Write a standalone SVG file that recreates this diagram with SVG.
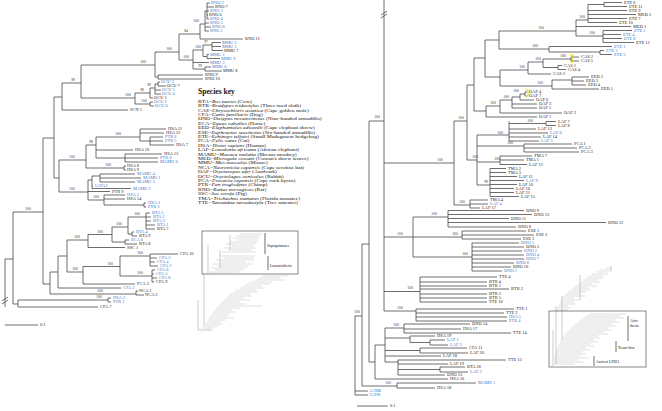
<svg xmlns="http://www.w3.org/2000/svg" width="662" height="411" viewBox="0 0 662 411">
<style>
.c{fill:none;stroke:#3d3d3d;stroke-width:.75}
.g{fill:none;stroke:#cbcbcb;stroke-width:.6}
.gd{fill:none;stroke:#a8a8a8;stroke-width:.6}
.bx{fill:none;stroke:#555;stroke-width:.7}
.y{fill:none;stroke:#eadc00;stroke-width:1.1}
text{font-family:"Liberation Serif","Times New Roman",serif}
.t{font-size:3.7px;fill:#1e1e1e;transform:scaleX(1.2);transform-box:fill-box;transform-origin:0 0}
.b{fill:#3b76c6}
.s{font-size:3.2px;fill:#333;text-anchor:middle;transform:scaleX(1.15);transform-box:fill-box;transform-origin:50% 0}
.k{font-size:3.9px;fill:#111;transform:scaleX(1.44);transform-box:fill-box;transform-origin:0 0}
.h{font-size:7.6px;font-weight:bold;fill:#111}
.i{font-style:italic}
.n{font-size:3.8px;fill:#222}
</style>
<rect width="662" height="411" fill="#fff"/>
<g id="connectors">
<path class="c" d="M5,259V307M5,259H13M13,212V304M13,212H43M13,304H18M18,300V307M18,300H108M108,298V302M108,298H111M108,302H111M18,307H98M2,301L8,297M2,304L8,300
M43,138V284M43,138H54M43,284H50M54,97V178M54,97H62M54,178H59
M62,83V110M62,83H81M62,110H128M81,65V98M81,65H155
M81,98H135M135,93V104M135,93H150M150,88V98M150,88H155M155,84V94M155,84H158M158,82V86M158,82H160M158,86H166M155,90H161M155,94H161M150,98H153M135,104H150M150,102V106M150,102H153M150,106H154
M155,52V77M155,52H179M155,77H158M158,75V79M158,75H203M158,79H203
M179,34V60M179,34H200M200,24V39M200,24H205M200,39H243
M205,11V31M205,11H207M207,3V19M207,3H210M207,7H214M207,11H209M207,15H208M207,19H209M205,23H209M205,27H211M205,31H209
M179,60H193M193,50V69M193,50H203M203,45V56.5M203,45H212M212,42.5V50.5M212,42.5H221M212,46.5H221M212,50.5H223M203,56.5H207M207,54.5V58.5M207,54.5H209M207,58.5H220M193,62.5H209M193,69H205M205,67V71M205,67H211M205,71H222
M59,160V192M59,160H86M59,192H88
M86,145V168M86,145H96M86,168H124M124,166V170M124,166H126M124,170H126
M96,137V158M96,137H140M96,150H133M96,158H125
M140,129V141M140,129H166M140,133H164M140,141H150M150,137V145M150,137H163M150,141H163M150,145H174
M125,154V162M125,154H162M125,158H158M125,162H158
M88,180V200M88,180H92M92,176V188.5M92,176H100M100,174V182M100,174H135M100,178H141M100,182H135M92,186H93M92,188.5H131M88,191.5H110
M88,200H104M104,195V205M104,195H125M104,199H125M104,205H144M144,203V207M144,203H146M144,207H146
M50,272V294M50,294H136M136,291V295M136,291H138M136,295H144M50,272H58
M58,256V288M58,288H121M58,256H67
M67,240V272M67,240H88M67,272H83
M88,234.5V247.5M88,234.5H112M88,247.5H125
M112,227V242M112,227H128M112,242H125M125,240V244M125,240H129M125,244H137
M128,217V234M128,217H146M146,213V229M146,213H150M146,217H151M146,221H151M146,225H155M146,229H155M128,234H132M132,232V236M132,232H134M132,236H137
M83,266.5V284M83,284H135M83,266.5H120M120,256V276M120,256H150M150,254V266M150,254H178M150,258H157M150,262H155M150,266H158M120,276H152M152,270V282M152,270H155M152,274H154M152,278H157M152,282H154
M5,325H38"/>
<path class="c" d="M355,316V395M355,391H368M355,395H368M355,316H362
M362,244V386M362,244H369M362,386H397M397,383V388M397,383H476M397,388H435
M369,121V362M369,121H384M369,362H375
M384,0V311M381,15L387,11M381,18L387,14
M384,163H454M454,121V205M454,121H467M454,205H470M470,200V208M470,200H488M470,204H488M470,208H480
M467,85V160M467,85H474M467,160H477
M474,58V111M474,58H485M474,111H486
M485,40V77M485,40H499M485,77H500
M499,31V49M499,31H576M499,49H549
M576,20V36M576,20H588M576,26.5H631M576,36H603
M588,4.5V22.5M588,4.5H604M604,2.5V6.5M604,2.5H622M604,6.5H627M588,10.5H627M588,14.5H636M588,18.5H627M588,22.5H617
M603,30.5V42.5M603,30.5H632M603,34.5H621M603,38.5H622M603,42.5H634
M549,46.5V52M549,46.5H612M549,52H600M600,50.5V54.5M600,50.5H604M600,54.5H612
M500,70V86M500,70H528M500,86H552M528,62V74M528,62H543M528,74H551M543,59V67.5M543,59H571M543,67.5H558M571,57V61M571,57H579M571,61H579M558,65.5V69.5M558,65.5H562M558,69.5H566M552,80V89M552,80H572M552,89H599M572,77V85M572,77H589M572,81H584M572,85H586
M486,106V117M486,106H500M486,117H537M500,100V113M500,100H512M500,113H562M512,97V108M512,97H520M512,104H537M512,108H537M520,94V100M520,94H525M525,92V96M525,92H527M525,96H527M520,100H534
M477,135V185M477,135H509M509,121.5V141M509,123.5H546M546,121.5V125.5M546,121.5H556M546,125.5H556M509,129H536M509,133H548M509,137H541M509,141H539M477,146H524M524,144V152M524,144H572M524,148H577M524,152H579M477,162H500M500,156V164.5M500,156H532M500,160H524M500,164.5H527M477,185H490M490,168.5V196.5M490,168.5H506M490,172.5H506M490,176.5H517M490,180.5H524M490,184.5H517M490,188.5H514M490,192.5H514M490,196.5H519
M384,237H413M413,217V257M413,217H448M448,210.5V227M448,210.5H524M448,214.5H532M448,218.5H509M448,222.5H606M448,227H516M413,237H462M462,231V239M462,231H526M462,235H534M462,239H521M413,257H472M472,243V271M472,243H519M472,247H524M472,251H522M472,255H524M472,259H524M472,263H514M472,267H511M472,271H502
M384,291.5H420M420,277V302M420,277H497M420,282H487M420,286H487M420,289H509M420,294H487M420,298H487M420,302H487
M384,311H416M416,309V321M416,309H514M416,313H504M416,317H507M416,321H507
M375,345V379M375,379H448M375,345H385M385,328V362M385,328H404M404,324V333M404,324H470M404,329H461M404,333H511M385,338H410M410,336V342.5M410,336H435M410,342.5H430M430,340V345M430,340H445M430,345H448M385,350.5H420M420,348V353M420,348H467M420,353H468M385,356H441M385,362H398M398,360V375M398,360H506M398,364H448M398,369.5H440M440,367V372M440,367H465M440,372H468M398,375H445
M357,406H388"/>
<path class="y" d="M570,55h3v7h-3M525,90h3v6h-3"/>
</g>
<g id="left-tips">
<text class="t b" x="211" y="4.3">RNO 2</text><text class="t" x="215" y="8.3">RNO 7</text><text class="t b" x="210" y="12.3">RNO 3</text><text class="t" x="209" y="16.3">RNO 6</text><text class="t b" x="210" y="20.3">RNO 4</text><text class="t b" x="210" y="24.3">RNO 5</text><text class="t b" x="212" y="28.3">RNO 8</text><text class="t b" x="210" y="32.3">RNO 1</text><text class="t" x="245" y="40.3">RNO 11</text>
<text class="t b" x="222" y="43.8">MMU 3</text><text class="t b" x="222" y="47.8">MMU 1</text><text class="t" x="224" y="51.8">MMU 7</text><text class="t b" x="210" y="55.8">MMU 2</text><text class="t b" x="221" y="59.8">MMU 9</text><text class="t b" x="210" y="63.8">MMU 5</text><text class="t b" x="212" y="68.3">MMU 6</text><text class="t" x="223" y="72.3">MMU 8</text>
<text class="t" x="205" y="76.3">RNO 9</text><text class="t" x="205" y="80.3">RNO 10</text>
<text class="t b" x="161" y="83.3">OCU 3</text><text class="t" x="167" y="87.3">OCU 7</text><text class="t b" x="162" y="91.3">OCU 5</text><text class="t b" x="162" y="95.3">OCU 4</text><text class="t" x="154" y="99.3">OCU 1</text><text class="t b" x="154" y="103.3">OCU 2</text><text class="t b" x="155" y="107.3">OCU 6</text><text class="t" x="130" y="111.3">SCN 1</text>
<text class="t" x="168" y="130.3">HSA 11</text><text class="t" x="166" y="134.3">HSA 12</text><text class="t b" x="165" y="138.3">PTR 6</text><text class="t b" x="165" y="142.3">PTR 5</text><text class="t" x="176" y="146.3">HSA 7</text><text class="t" x="135" y="151.3">HSA 10</text><text class="t" x="164" y="155.3">HSA 13</text><text class="t b" x="160" y="159.3">PTR 8</text><text class="t b" x="160" y="163.3">MAMU 6</text><text class="t" x="127" y="167.3">HSA 8</text><text class="t" x="127" y="171.3">HSA 9</text>
<text class="t b" x="137" y="175.3">MAMU 4</text><text class="t b" x="143" y="179.3">MAMU 1</text><text class="t b" x="137" y="183.3">MAMU 3</text><text class="t b" x="95" y="187.3">L1PA2</text><text class="t b" x="133" y="189.8">MAMU 2</text><text class="t" x="112" y="192.8">PTR 9</text><text class="t b" x="127" y="196.3">HSA 1</text><text class="t" x="127" y="200.3">HSA 14</text><text class="t b" x="148" y="204.3">HSA 3</text><text class="t b" x="148" y="208.3">PTR 3</text>
<text class="t b" x="152" y="214.3">BTA 5</text><text class="t b" x="153" y="218.3">BTA 2</text><text class="t b" x="153" y="222.3">BTA 3</text><text class="t b" x="157" y="226.3">BTA 1</text><text class="t" x="157" y="230.3">BTA 7</text><text class="t b" x="136" y="233.3">BTA 4</text><text class="t" x="139" y="237.3">BTA 9</text><text class="t b" x="131" y="241.3">ECA 6</text><text class="t" x="139" y="245.3">BTA 8</text><text class="t" x="127" y="248.8">SSC 1</text>
<text class="t" x="180" y="255.3">CFA 10</text><text class="t b" x="159" y="259.3">CFA 2</text><text class="t b" x="157" y="263.3">CFA 4</text><text class="t b" x="160" y="267.3">CFA 3</text><text class="t b" x="157" y="271.3">CFA 6</text><text class="t b" x="156" y="275.3">CFA 5</text><text class="t b" x="159" y="279.3">CFA 8</text><text class="t" x="156" y="283.3">CFA 9</text><text class="t" x="137" y="285.3">FCA 3</text><text class="t b" x="123" y="289.3">CFA 1</text><text class="t" x="139" y="292.3">NCA 1</text><text class="t" x="145" y="296.3">NCA 2</text>
<text class="t b" x="113" y="299.3">HSA 2</text><text class="t b" x="113" y="303.3">PTR 1</text><text class="t" x="100" y="308.3">CFA 7</text>
<text class="t" x="40" y="326.3">0.1</text>
</g>
<g id="left-support">
<text class="s" x="28" y="210.5">100</text><text class="s" x="99" y="298.5">100</text><text class="s" x="73" y="81.5">98</text><text class="s" x="143" y="63.5">100</text><text class="s" x="128" y="96.5">100</text><text class="s" x="142" y="91.5">98</text><text class="s" x="149" y="86.5">99</text><text class="s" x="144" y="102.5">100</text><text class="s" x="169" y="50.5">100</text><text class="s" x="186" y="32.5">84</text><text class="s" x="196" y="22.5">100</text><text class="s" x="186" y="58.5">100</text><text class="s" x="198" y="48.5">100</text><text class="s" x="206" y="43.5">97</text><text class="s" x="200" y="67.5">99</text>
<text class="s" x="72" y="158.5">100</text><text class="s" x="91" y="143.5">98</text><text class="s" x="108" y="166.5">100</text><text class="s" x="118" y="135.5">100</text><text class="s" x="72" y="190.5">100</text><text class="s" x="96" y="198.5">100</text>
<text class="s" x="77" y="238.5">100</text><text class="s" x="100" y="233">100</text><text class="s" x="119" y="225.5">100</text><text class="s" x="137" y="215.5">100</text><text class="s" x="140" y="254.5">100</text><text class="s" x="110" y="265">100</text><text class="s" x="75" y="270.5">100</text><text class="s" x="140" y="274.5">100</text><text class="s" x="100" y="292.5">100</text>
</g>
<g id="species-key">
<text class="h" x="198" y="94">Species key</text>
<text class="k" x="198" y="102.8">BTA=<tspan class="i">Bos taurus</tspan> (Cow)</text>
<text class="k" x="198" y="107.2">BTR=<tspan class="i">Bradypus tridactylus</tspan> (Three-toed sloth)</text>
<text class="k" x="198" y="111.6">CAS=<tspan class="i">Chrysochloris asiatica</tspan> (Cape golden mole)</text>
<text class="k" x="198" y="116">CFA=<tspan class="i">Canis familiaris</tspan> (Dog)</text>
<text class="k" x="198" y="120.4">DNO=<tspan class="i">Dasypus novemcinctus</tspan> (Nine-banded armadillo)</text>
<text class="k" x="198" y="124.8">ECA=<tspan class="i">Equus caballus</tspan> (Horse)</text>
<text class="k" x="198" y="129.2">EED=<tspan class="i">Elephantulus edwardii</tspan> (Cape elephant shrew)</text>
<text class="k" x="198" y="133.6">ESE=<tspan class="i">Euphractus sexcinctus</tspan> (Six-banded armadillo)</text>
<text class="k" x="198" y="138">ETE=<tspan class="i">Echinops telfairi</tspan> (Small Madagascar hedgehog)</text>
<text class="k" x="198" y="142.4">FCA=<tspan class="i">Felis catus</tspan> (Cat)</text>
<text class="k" x="198" y="146.8">HSA=<tspan class="i">Homo sapiens</tspan> (Human)</text>
<text class="k" x="198" y="151.2">LAF=<tspan class="i">Loxodonta africana</tspan> (African elephant)</text>
<text class="k" x="198" y="155.6">MAMU=<tspan class="i">Macaca mulatta</tspan> (Rhesus monkey)</text>
<text class="k" x="198" y="160">MED=<tspan class="i">Microgale cowani</tspan> (Cowan's shrew tenrec)</text>
<text class="k" x="198" y="164.4">MMU=<tspan class="i">Mus musculus</tspan> (Mouse)</text>
<text class="k" x="198" y="168.8">NCA=<tspan class="i">Neoromicia capensis</tspan> (Cape serotine bat)</text>
<text class="k" x="198" y="173.2">OAF=<tspan class="i">Orycteropus afer</tspan> (Aardvark)</text>
<text class="k" x="198" y="177.6">OCU=<tspan class="i">Oryctolagus cuniculus</tspan> (Rabbit)</text>
<text class="k" x="198" y="182">PCA=<tspan class="i">Procavia capensis</tspan> (Cape rock hyrax)</text>
<text class="k" x="198" y="186.4">PTR=<tspan class="i">Pan troglodytes</tspan> (Chimp)</text>
<text class="k" x="198" y="190.8">RNO=<tspan class="i">Rattus norvegicus</tspan> (Rat)</text>
<text class="k" x="198" y="195.2">SSC=<tspan class="i">Sus scrofa</tspan> (Pig)</text>
<text class="k" x="198" y="199.6">TMA=<tspan class="i">Trichechus manatus</tspan> (Florida manatee)</text>
<text class="k" x="198" y="204">TTE=<tspan class="i">Tamandua tetradactyla</tspan> (Tree anteater)</text>
</g>
<g id="left-inset">
<path class="g" d="M240,234h22M236,236h24M233,238h26M238,240h20M230,242h28M226,244h30M232,246h22M224,248h32M228,250h24M222,252h34M219,256h36M224,258h30M216,260h38M220,262h26M213,264h40M218,266h30M211,268h36M215,270h28M209,272h30
M262,276h26M258,278h22M255,280h30M250,282h22M246,284h24M243,286h19M240,288h25M236,290h20M233,292h25M230,294h20M228,296h24M226,298h18M224,300h26M222,302h18M220,304h26M218,306h44M216,308h24M215,310h17M213,312h23M212,314h18M210,316h18M209,318h25M208,320h18M207,322h13M205,324h17M204,326h14M202,328h12"/>
<path class="gd" d="M230,235V250M220,250V268M208,245V274M204,274V326M198,300V330M198,330H212"/>
<rect class="bx" x="202" y="231" width="96" height="43"/>
<path class="c" d="M265,233V254M268,256V270"/>
<text class="n" x="267" y="247">Supraprimates</text>
<text class="n" x="270" y="267">Laurasiatheria</text>
</g>
<g id="right-tips">
<text class="t" x="624" y="3.8">ETE 6</text><text class="t" x="629" y="7.8">ETE 11</text><text class="t" x="629" y="11.8">ETE 9</text><text class="t" x="638" y="15.8">MED 2</text><text class="t" x="629" y="19.8">ETE 7</text><text class="t" x="619" y="23.8">ETE 10</text><text class="t" x="633" y="27.8">MED 1</text><text class="t b" x="634" y="31.8">ETE 2</text><text class="t b" x="623" y="35.8">ETE 4</text><text class="t b" x="624" y="39.8">ETE 8</text><text class="t" x="636" y="43.8">ETE 12</text><text class="t b" x="614" y="47.8">ETE 1</text><text class="t b" x="606" y="51.8">ETE 3</text><text class="t b" x="614" y="55.8">ETE 5</text>
<text class="t" x="581" y="58.3">CAS 2</text><text class="t" x="581" y="62.3">CAS 5</text><text class="t" x="564" y="66.8">CAS 1</text><text class="t" x="568" y="70.8">CAS 4</text><text class="t" x="553" y="75.3">CAS 3</text><text class="t" x="591" y="78.3">EED 2</text><text class="t" x="586" y="82.3">EED 3</text><text class="t" x="588" y="86.3">EED 4</text><text class="t" x="601" y="90.3">EED 1</text>
<text class="t" x="529" y="93.3">OAF 4</text><text class="t" x="529" y="97.3">OAF 7</text><text class="t" x="536" y="101.3">OAF 6</text><text class="t" x="539" y="105.3">OAF 3</text><text class="t" x="539" y="109.3">OAF 5</text><text class="t" x="564" y="114.3">OAF 2</text><text class="t" x="539" y="118.3">OAF 1</text>
<text class="t" x="558" y="122.8">LAF 7</text><text class="t" x="558" y="126.8">LAF 8</text><text class="t" x="538" y="130.3">LAF 13</text><text class="t b" x="550" y="134.3">LAF 6</text><text class="t" x="543" y="138.3">LAF 14</text><text class="t b" x="541" y="142.3">LAF 5</text><text class="t" x="574" y="145.3">PCA 1</text><text class="t" x="579" y="149.3">PCA 2</text><text class="t" x="581" y="153.3">PCA 3</text><text class="t" x="534" y="157.3">TMA 7</text><text class="t" x="526" y="161.3">TMA 1</text><text class="t" x="529" y="165.8">LAF 12</text><text class="t" x="508" y="169.8">TMA 2</text><text class="t" x="508" y="173.8">TMA 3</text><text class="t" x="519" y="177.8">LAF 11</text><text class="t b" x="526" y="181.8">LAF 9</text><text class="t" x="519" y="185.8">LAF 10</text><text class="t" x="516" y="189.8">LAF 16</text><text class="t" x="516" y="193.8">LAF 21</text><text class="t" x="521" y="197.8">LAF 15</text><text class="t" x="490" y="201.3">TMA 4</text><text class="t b" x="490" y="205.3">LAF 4</text><text class="t" x="482" y="209.3">LAF 17</text>
<text class="t" x="526" y="211.8">DNO 9</text><text class="t" x="534" y="215.8">DNO 13</text><text class="t" x="511" y="219.8">DNO 11</text><text class="t" x="608" y="223.8">DNO 12</text><text class="t" x="518" y="228.3">DNO 8</text><text class="t" x="528" y="232.3">ESE 1</text><text class="t" x="536" y="236.3">ESE 2</text><text class="t" x="523" y="240.3">ESE 3</text><text class="t b" x="521" y="244.3">DNO 5</text><text class="t" x="526" y="248.3">DNO 3</text><text class="t b" x="524" y="252.3">DNO 2</text><text class="t b" x="526" y="256.3">DNO 4</text><text class="t b" x="526" y="260.3">DNO 7</text><text class="t b" x="516" y="264.3">DNO 6</text><text class="t" x="513" y="268.3">DNO 10</text><text class="t b" x="504" y="272.3">DNO 1</text>
<text class="t" x="499" y="278.3">TTE 4</text><text class="t" x="489" y="283.3">BTR 4</text><text class="t" x="489" y="287.3">BTR 1</text><text class="t" x="511" y="290.3">BTR 2</text><text class="t" x="489" y="295.3">BTR 3</text><text class="t" x="489" y="299.3">BTR 5</text><text class="t" x="489" y="303.3">TTE 16</text>
<text class="t" x="516" y="310.3">TTE 1</text><text class="t" x="506" y="314.3">TTE 2</text><text class="t b" x="509" y="318.3">HSA 5</text><text class="t b" x="509" y="322.3">PTR 4</text>
<text class="t" x="472" y="325.3">DNO 14</text><text class="t" x="463" y="330.3">HSA 17</text><text class="t" x="513" y="334.3">TTE 14</text><text class="t" x="437" y="337.3">HSA 19</text><text class="t b" x="447" y="341.3">LAF 1</text><text class="t b" x="450" y="346.3">LAF 2</text><text class="t" x="469" y="349.3">CFA 11</text><text class="t" x="470" y="354.3">LAF 20</text><text class="t" x="443" y="357.3">LAF 18</text><text class="t" x="508" y="361.3">TTE 13</text><text class="t" x="450" y="365.3">LAF 19</text><text class="t" x="467" y="368.3">BTA 18</text><text class="t b" x="470" y="373.3">LAF 3</text><text class="t" x="447" y="376.3">DNO 15</text><text class="t" x="450" y="380.3">HSA 16</text><text class="t b" x="478" y="384.3">MAMU 1</text><text class="t" x="437" y="389.3">HSA 18</text><text class="t b" x="370" y="392.3">L1ME</text><text class="t b" x="370" y="396.3">L1HS</text>
<text class="t" x="390" y="407.3">0.1</text>
</g>
<g id="right-support">
<text class="s" x="377" y="118.5">100</text><text class="s" x="357" y="313.5">100</text><text class="s" x="388" y="384.5">100</text>
<text class="s" x="541" y="29.5">100</text><text class="s" x="582" y="18.5">100</text><text class="s" x="592" y="34.5">100</text><text class="s" x="535" y="47.5">100</text>
<text class="s" x="522" y="68.5">100</text><text class="s" x="538" y="60.5">100</text><text class="s" x="563" y="57.5">100</text><text class="s" x="540" y="84.5">100</text>
<text class="s" x="493" y="104.5">100</text><text class="s" x="506" y="98.5">100</text><text class="s" x="516" y="92.5">100</text>
<text class="s" x="461" y="119.5">100</text><text class="s" x="475" y="158.5">100</text><text class="s" x="500" y="134">100</text><text class="s" x="530" y="122">100</text><text class="s" x="510" y="144.5">100</text><text class="s" x="497" y="160.5">100</text><text class="s" x="486" y="183.5">99</text><text class="s" x="462" y="203.5">100</text><text class="s" x="440" y="161.5">100</text>
<text class="s" x="400" y="235.5">100</text><text class="s" x="434" y="215.5">100</text><text class="s" x="455" y="235.5">100</text><text class="s" x="465" y="255.5">100</text><text class="s" x="410" y="289.5">100</text><text class="s" x="400" y="309.5">100</text><text class="s" x="396" y="326.5">100</text>
</g>
<g id="right-inset">
<path class="g" d="M606,268h6M600,270h10M597,272h12M592,274h16M589,276h14M586,278h18M583,280h15M580,282h20M578,284h14M575,286h22M573,288h16M570,290h20M568,292h18M566,294h15M564,296h22M562,298h12M561,300h18M560,302h14M559,304h16M558,306h10M557,308h14M556,310h12
M590,314h36M586,316h34M583,318h41M580,320h35M578,322h42M575,324h37M573,326h43M571,328h37M569,330h43M567,332h37M565,334h43M564,336h34M562,338h38M561,340h33M560,342h38M559,344h31M558,346h36M557,348h29M556,350h34M556,352h26M555,354h31M555,356h25M554,358h34M554,360h24M554,362h30M554,364h21"/>
<path class="gd" d="M611,266V272M580,275V300M562,296V340M556,306V364M553,330V366"/>
<rect class="bx" x="549" y="311" width="97" height="56"/>
<path class="c" d="M628,316V341M616,341V352M594,356V366"/>
<text class="n" x="630" y="322">Afro-</text>
<text class="n" x="630" y="327">theria</text>
<text class="n" x="618" y="348.5">Xenar-thra</text>
<text class="n" x="596" y="363">Ancient LINE1</text>
</g>
</svg>
